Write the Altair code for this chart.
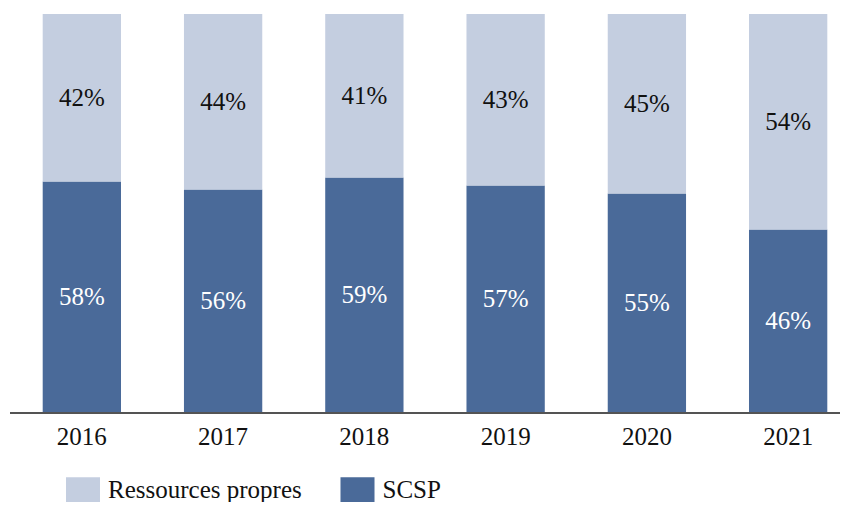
import altair as alt
import pandas as pd

years = ["2016", "2017", "2018", "2019", "2020", "2021"]
scsp = [58, 56, 59, 57, 55, 46]
ressources = [42, 44, 41, 43, 45, 54]
categories = ["Ressources propres", "SCSP"]
colors = ["#C4CEE0", "#4A6A99"]

rows = []
for i, y in enumerate(years):
    rows.append({"year": y, "cat": "SCSP", "value": scsp[i], "order": 0})
    rows.append({"year": y, "cat": "Ressources propres", "value": ressources[i], "order": 1})
df = pd.DataFrame(rows)

FONT = "Liberation Serif"

base = alt.Chart(df).transform_stack(
    stack="value", groupby=["year"], as_=["v0", "v1"], offset="normalize",
    sort=[alt.SortField("order", order="ascending")]
).transform_calculate(
    mid="(datum.v0 + datum.v1) / 2",
    label="datum.value + '%'"
)

xscale = alt.Scale(paddingInner=0.4457, paddingOuter=0, range=[34.7, 819.3])
xenc = alt.X("year:N", sort=years, scale=xscale,
             axis=alt.Axis(title=None, labelAngle=0, ticks=False, domain=False,
                           labelFont=FONT, labelFontSize=25, labelColor="#111111",
                           labelPadding=11))

bars = base.mark_bar().encode(
    x=xenc,
    y=alt.Y("v0:Q", scale=alt.Scale(domain=[0, 1]), axis=None),
    y2="v1:Q",
    color=alt.Color("cat:N", scale=alt.Scale(domain=categories, range=colors),
                    legend=alt.Legend(title=None, orient="none", direction="horizontal",
                                      legendX=61.5, legendY=462.5, padding=0,
                                      symbolType="M-1.26,-0.96H1.26V0.96H-1.26Z", symbolSize=729,
                                      symbolStrokeWidth=0, labelFont=FONT, labelFontSize=25,
                                      labelLimit=0, labelColor="#111111", labelOffset=11.5,
                                      columnPadding=37.5))
)

texts = base.mark_text(font=FONT, fontSize=25, baseline="middle").encode(
    x=alt.X("year:N", sort=years),
    y=alt.Y("mid:Q"),
    text="label:N",
    color=alt.condition(alt.datum.cat == "SCSP", alt.value("#FFFFFF"), alt.value("#111111"))
)

baseline = alt.Chart(df).mark_rule(color="#555555", strokeWidth=1.5).encode(
    x=alt.value(2), x2=alt.value(832), y=alt.value(399)
)

chart = alt.layer(bars, texts, baseline).properties(
    width=832, height=399,
    autosize=alt.AutoSizeParams(type="none"),
    padding={"left": 0, "top": 6, "right": 0, "bottom": 89}
).configure_view(stroke=None)

chart.save("out.html", embed_options={"renderer": "svg", "actions": False})
